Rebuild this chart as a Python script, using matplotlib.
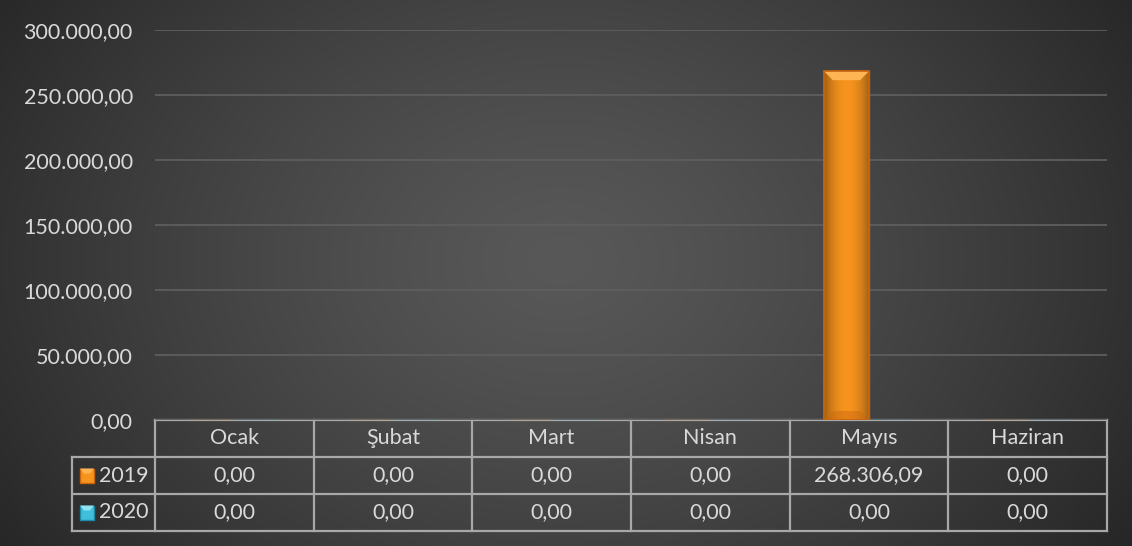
import numpy as np
import matplotlib
matplotlib.use("Agg")
import matplotlib.pyplot as plt
from matplotlib.lines import Line2D
from matplotlib.patches import Rectangle, Polygon

plt.rcParams['font.family'] = ['Lato', 'DejaVu Sans']

aylar = ["Ocak", "Şubat", "Mart", "Nisan", "Mayıs", "Haziran"]
seriler = ["2019", "2020"]
v2019 = [0, 0, 0, 0, 268306.09, 0]
v2020 = [0, 0, 0, 0, 0, 0]
yticks = [0, 50000, 100000, 150000, 200000, 250000, 300000]
renk = ["#f7941d", "#3fbfd9"]
acik = ["#ffb454", "#8fe3f5"]
koyu = ["#c8660f", "#1f8aa6"]


def tr(v):
    s = f"{v:,.2f}"
    return s.replace(",", "#").replace(".", ",").replace("#", ".")


W, H = 1132, 546
fig = plt.figure(figsize=(W / 100, H / 100), dpi=100)

# arka plan (radyal gradyan) + tablo icin piksel koordinatli eksen
bg = fig.add_axes([0, 0, 1, 1])
bg.set_xlim(0, W)
bg.set_ylim(H, 0)
bg.axis("off")
yy, xx = np.mgrid[0:H, 0:W]
r = np.sqrt(((xx - 560) / 700.0) ** 2 + ((yy - 260) / 520.0) ** 2)
r = np.clip(r, 0, 1)
g = 0.345 - (0.345 - 0.145) * r ** 1.3
bg.imshow(np.dstack([g, g, g]), extent=(0, W, H, 0), aspect="auto", zorder=0)

L, R, Y0, Y300 = 155, 1107, 420, 30
ax = fig.add_axes([L / W, (H - Y0) / H, (R - L) / W, (Y0 - Y300) / H])
ax.patch.set_alpha(0)
ax.set_xlim(-0.5, len(aylar) - 0.5)
ax.set_ylim(0, 300000)
ax.set_yticks(yticks)
ax.set_yticklabels([tr(t) for t in yticks])
ax.tick_params(axis="y", length=0, pad=16, labelsize=15.5, labelcolor="#d9d9d9")
ax.tick_params(axis="x", length=0, labelbottom=False)
for s in ax.spines.values():
    s.set_visible(False)
ax.grid(axis="y", color="#5e5e5e", lw=1.3)
ax.set_axisbelow(True)

x = np.arange(len(aylar))
w = 0.284
ph = 300000 / (Y0 - Y300)  # bir pikselin veri karsiligi
for k, vals in enumerate([v2019, v2020]):
    bars = ax.bar(x + (k - 0.5) * w, vals, w, color=renk[k], edgecolor=koyu[k], lw=1.0, zorder=3)
    for b, v in zip(bars, vals):
        if v <= 0:
            continue
        x0, bw = b.get_x(), b.get_width()
        grad = np.linspace(0, 1, 50)
        prof = 1 - 0.35 * np.abs(grad - 0.5) ** 2 * 4
        c0 = np.array(matplotlib.colors.to_rgb(renk[k]))
        img = np.clip(c0[None, None, :] * prof[None, :, None] * np.ones((2, 1, 1)), 0, 1)
        im = ax.imshow(img, extent=(x0, x0 + bw, 0, v), aspect="auto", zorder=4)
        im.set_clip_path(b)
        d = bw * 0.2
        hh = 9 * ph
        # ust kabartma
        ax.add_patch(Polygon([(x0, v), (x0 + bw, v), (x0 + bw - d, v - hh), (x0 + d, v - hh)],
                             closed=True, color=acik[k], lw=0, zorder=5))
        # alt kabartma
        ax.add_patch(Polygon([(x0, 0), (x0 + bw, 0), (x0 + bw - d, hh), (x0 + d, hh)],
                             closed=True, color=koyu[k], alpha=0.45, lw=0, zorder=5))
        ax.add_patch(Rectangle((x0, 0), bw, v, fill=False, ec=koyu[k], lw=1.2, zorder=6))

# veri tablosu
cw = (R - L) / len(aylar)
rows = [Y0, 457, 494, 531]
lc = "#a8a8a8"
lw = 1.6
bg.add_line(Line2D([L, R], [Y0, Y0], color=lc, lw=lw, zorder=10))
for yv in rows[1:]:
    bg.add_line(Line2D([72, R], [yv, yv], color=lc, lw=lw, zorder=10))
bg.add_line(Line2D([72, 72], [457, 531], color=lc, lw=lw, zorder=10))
for i in range(len(aylar) + 1):
    xv = L + i * cw
    bg.add_line(Line2D([xv, xv], [Y0, 531], color=lc, lw=lw, zorder=10))

tc = "#d9d9d9"
fs = 15.5
for i, ay in enumerate(aylar):
    cx = L + (i + 0.5) * cw
    bg.text(cx, (rows[0] + rows[1]) / 2, ay, ha="center", va="center", color=tc, fontsize=fs, zorder=11)
    for j, vals in enumerate([v2019, v2020]):
        bg.text(cx, (rows[j + 1] + rows[j + 2]) / 2, tr(vals[i]), ha="center", va="center",
                color=tc, fontsize=fs, zorder=11)

for j, sname in enumerate(seriler):
    cy = (rows[j + 1] + rows[j + 2]) / 2
    bg.add_patch(Rectangle((80, cy - 7), 14, 14, color=renk[j], ec=koyu[j], lw=1, zorder=11))
    bg.add_patch(Polygon([(80, cy - 7), (94, cy - 7), (90, cy - 2), (84, cy - 2)],
                         closed=True, color=acik[j], lw=0, zorder=12))
    bg.text(99, cy, sname, ha="left", va="center", color=tc, fontsize=fs, zorder=11)

fig.savefig("out.png", dpi=100)
